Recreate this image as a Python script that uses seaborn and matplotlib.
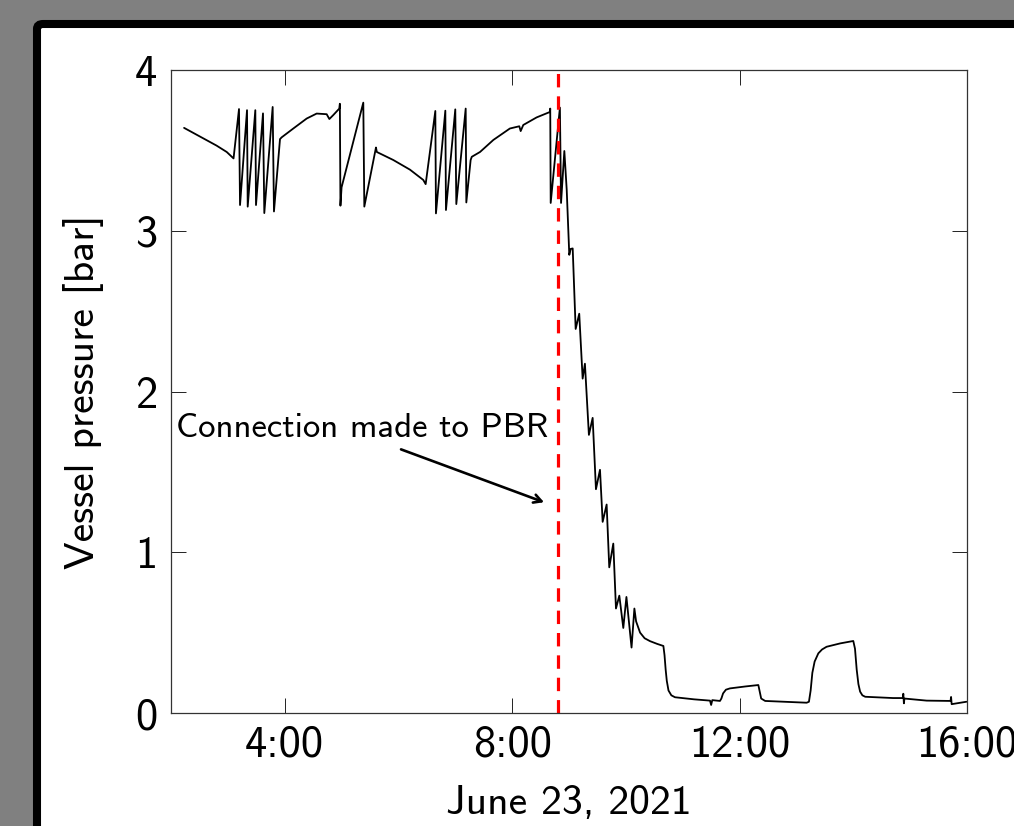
import matplotlib
matplotlib.use("Agg")
import matplotlib.pyplot as plt
from matplotlib.patches import FancyBboxPatch
import seaborn as sns
import pandas as pd

# ---- data (hours of day, pressure in bar) ----
hours = [2.23, 2.54, 2.80, 2.98, 3.10,
         3.196, 3.214, 3.337, 3.349, 3.483, 3.495, 3.618, 3.641, 3.788, 3.811, 3.917,
         3.946, 4.151, 4.386, 4.562, 4.738, 4.785, 4.855, 4.96, 4.97,
         4.98, 5.00, 5.382, 5.40, 5.605, 5.62, 5.91, 6.203, 6.437, 6.479,
         6.649, 6.66, 6.825, 6.836, 7.00, 7.018, 7.183, 7.194, 7.27, 7.29,
         7.435, 7.67, 7.96, 8.126, 8.15, 8.196, 8.43, 8.665, 8.67,
         8.678, 8.84, 8.86, 8.918, 8.96, 9.005, 9.03, 9.065,
         9.117, 9.18, 9.24, 9.28, 9.35, 9.416, 9.474, 9.545, 9.592, 9.662,
         9.708, 9.779, 9.826, 9.885, 9.955, 10.01, 10.10, 10.15, 10.18, 10.25,
         10.33, 10.425, 10.55, 10.66, 10.68, 10.70, 10.72, 10.75, 10.80, 10.864,
         11.2, 11.48, 11.50, 11.52, 11.655, 11.68, 11.71, 11.76, 11.83, 12.1,
         12.33, 12.35, 12.38, 12.45, 12.8, 13.18, 13.22, 13.25, 13.28, 13.32,
         13.385, 13.45, 13.53, 13.77, 14.00, 14.03, 14.06, 14.09, 14.12, 14.16,
         14.21, 14.70, 14.87, 14.88, 14.89, 14.90, 15.29, 15.71, 15.72, 15.73,
         15.99]
pressure = [3.64, 3.58, 3.53, 3.49, 3.45,
            3.757, 3.16, 3.75, 3.15, 3.75, 3.16, 3.73, 3.11, 3.77, 3.12, 3.57,
            3.581, 3.636, 3.698, 3.729, 3.725, 3.695, 3.72, 3.76, 3.79,
            3.156, 3.27, 3.797, 3.15, 3.518, 3.49, 3.44, 3.38, 3.316, 3.29,
            3.745, 3.108, 3.747, 3.129, 3.755, 3.166, 3.76, 3.176, 3.44, 3.46,
            3.49, 3.565, 3.636, 3.65, 3.62, 3.658, 3.705, 3.739, 3.76,
            3.173, 3.766, 3.173, 3.496, 3.253, 2.85, 2.887, 2.89,
            2.389, 2.484, 2.08, 2.173, 1.73, 1.836, 1.392, 1.513, 1.189, 1.297,
            0.906, 1.054, 0.65, 0.73, 0.529, 0.722, 0.407, 0.65, 0.57, 0.50,
            0.465, 0.447, 0.43, 0.417, 0.36, 0.27, 0.20, 0.14, 0.11, 0.098,
            0.085, 0.077, 0.05, 0.08, 0.075, 0.09, 0.122, 0.145, 0.153, 0.165,
            0.174, 0.14, 0.09, 0.075, 0.07, 0.064, 0.07, 0.14, 0.25, 0.32,
            0.371, 0.395, 0.412, 0.433, 0.448, 0.40, 0.27, 0.18, 0.133, 0.11,
            0.101, 0.093, 0.093, 0.12, 0.06, 0.09, 0.077, 0.075, 0.10, 0.055,
            0.07]

connection_hour = 8.80
xtick_hours = [4, 8, 12, 16]
xtick_labels = ["4:00", "8:00", "12:00", "16:00"]
ytick_values = [0, 1, 2, 3, 4]
annotation_text = "Connection made to PBR"
x_label = "June 23, 2021"
y_label = "Vessel pressure [bar]"

df = pd.DataFrame({"hour": hours, "pressure": pressure})

sns.set_style("ticks")
plt.rcParams["font.family"] = ["cmss10", "DejaVu Sans"]
plt.rcParams["axes.unicode_minus"] = False
plt.rcParams["text.color"] = "black"
plt.rcParams["axes.labelcolor"] = "black"
plt.rcParams["xtick.color"] = "black"
plt.rcParams["ytick.color"] = "black"

fig = plt.figure(figsize=(10.14, 8.26), dpi=100)
fig.patch.set_facecolor("#808080")

frame = FancyBboxPatch((37 / 1014, -0.1), 1.2, 0.1 + (1 - 24 / 826),
                       boxstyle="round,pad=0,rounding_size=0.006",
                       transform=fig.transFigure, facecolor="white",
                       edgecolor="black", linewidth=5.8, zorder=-1)
fig.add_artist(frame)

ax = fig.add_axes([171 / 1014, (826 - 713) / 826, 796 / 1014, 643 / 826])
ax.set_facecolor("white")

sns.lineplot(data=df, x="hour", y="pressure", ax=ax, color="black",
             linewidth=1.3, estimator=None, sort=False, legend=False)

ax.axvline(connection_hour, color="#ff0000", linewidth=2.3,
           linestyle=(0, (4.2, 2.8)))

ax.annotate("", xy=(8.607, 1.305), xytext=(6.0, 1.646),
            arrowprops=dict(arrowstyle="->,head_length=0.55,head_width=0.3",
                            color="black", lw=1.9))
ax.text(2.08, 1.717, annotation_text, ha="left", va="baseline", fontsize=25,
        color="black")

ax.set_xlim(2, 16)
ax.set_ylim(0, 4)
ax.set_xticks(xtick_hours)
ax.set_xticklabels(xtick_labels)
ax.set_yticks(ytick_values)
ax.set_yticklabels([str(v) for v in ytick_values])

ax.tick_params(axis="both", which="major", direction="in", length=10.8,
               width=0.7, labelsize=32, top=True, right=True,
               color="#222222", labelcolor="black")
ax.tick_params(axis="x", pad=8)
ax.tick_params(axis="y", pad=10)
for s in ax.spines.values():
    s.set_visible(True)
    s.set_linewidth(0.9)
    s.set_color("#333333")

ax.set_xlabel(x_label, fontsize=30, labelpad=14, color="black")
ax.set_ylabel(y_label, fontsize=30, color="black")
ax.yaxis.set_label_coords(-0.084, 0.5)

fig.savefig("out.png", dpi=100, facecolor=fig.get_facecolor())
